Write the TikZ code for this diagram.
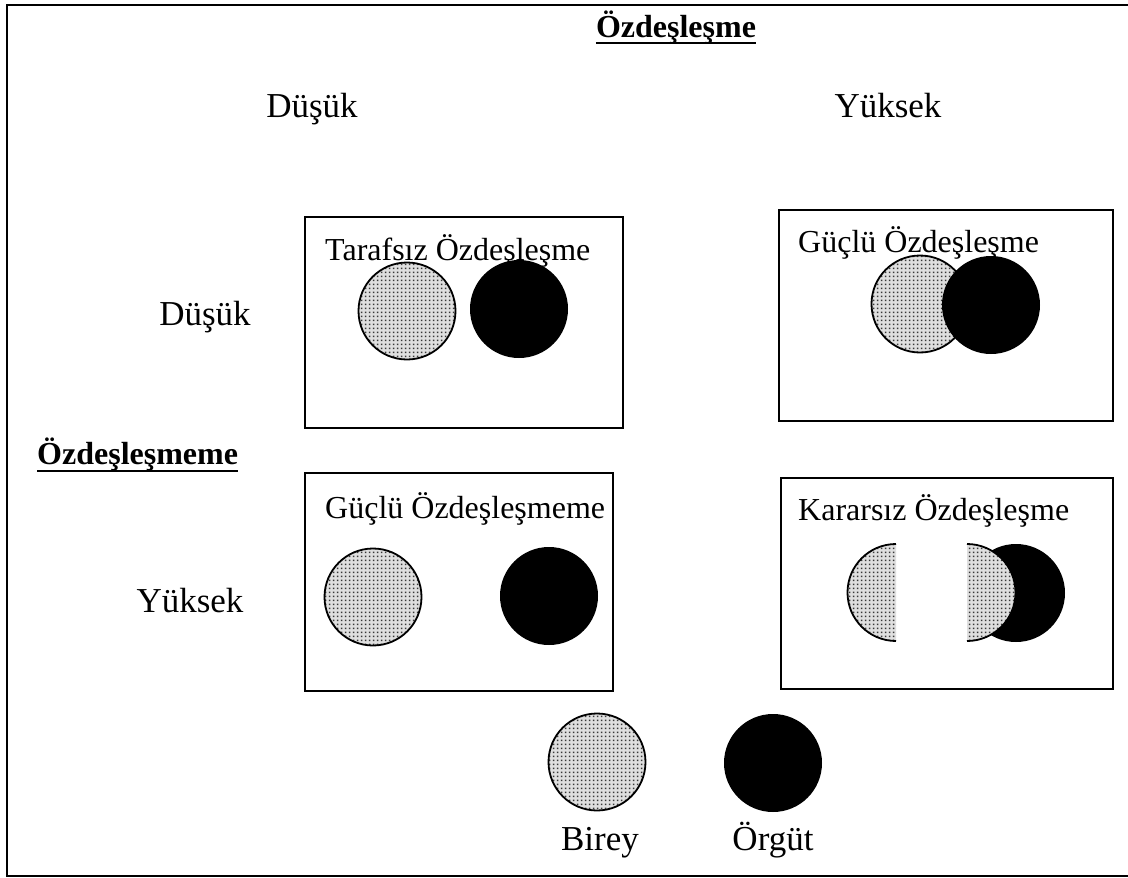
\documentclass[tikz,border=0pt]{standalone}
\usepackage{fontspec}
\setmainfont{Liberation Serif}
\usetikzlibrary{patterns.meta}
% fine dot screen used for the "Birey" discs
\pgfdeclarepattern{
  name=stipple,
  type=uncolored,
  bottom left={\pgfpoint{0pt}{0pt}},
  top right={\pgfpoint{4pt}{4pt}},
  tile size={\pgfpoint{4pt}{4pt}},
  code={\pgfpathrectangle{\pgfpoint{1pt}{1pt}}{\pgfpoint{2pt}{2pt}}\pgfusepath{fill}}
}
\begin{document}
\begin{tikzpicture}[x=1pt,y=-1pt,
  lbl/.style={inner sep=0, anchor=base, font=\fontsize{35}{41}\selectfont},
  ttl/.style={inner sep=0, anchor=base west, font=\fontsize{32}{38}\selectfont},
  hdr/.style={inner sep=0, font=\fontsize{32}{38}\selectfont\bfseries},
  quad/.style={draw, line width=1.8, anchor=north west, inner sep=0},
  stip/.style={preaction={fill=gray!25}, pattern=stipple, pattern color=gray!45!black},
  birey/.style={circle, draw, line width=1.8, minimum size=97, inner sep=0, stip},
  orgut/.style={circle, fill=black, minimum size=98, inner sep=0},
  rim/.style={line width=1.8}
]
\useasboundingbox (0,0) rectangle (1128,878);
\clip (0,0) rectangle (1128,878);

% outer frame (its right side lies past the page edge)
\draw[line width=2.5] (7,5) rectangle (1160,876);

% column heading
\node[hdr, anchor=base] (colhead) at (676,37) {Özdeşleşme};
\draw[line width=2.5] ([yshift=-6pt]colhead.base west) -- ([yshift=-6pt]colhead.base east);
\node[lbl] (cLow) at (312,117) {Düşük};
\node[lbl] (cHigh) at (888,117) {Yüksek};

% row heading
\node[hdr, anchor=base west] (rowhead) at (37,464) {Özdeşleşmeme};
\draw[line width=2.5] ([yshift=-7pt]rowhead.base west) -- ([yshift=-7pt]rowhead.base east);
\node[lbl] (rLow) at (205,325) {Düşük};
\node[lbl] (rHigh) at (190,612) {Yüksek};

% four quadrants
\node[quad, minimum width=318, minimum height=211] (q1) at (304,216) {};
\node[quad, minimum width=334, minimum height=211] (q2) at (778,209) {};
\node[quad, minimum width=308, minimum height=218] (q3) at (304,472) {};
\node[quad, minimum width=332, minimum height=211] (q4) at (780,477) {};

\node[ttl] (t1) at (325,260) {Tarafsız Özdeşleşme};
\node[ttl] (t2) at (798,252) {Güçlü Özdeşleşme};
\node[ttl] (t3) at (325,518) {Güçlü Özdeşleşmeme};
\node[ttl] (t4) at (798,520) {Kararsız Özdeşleşme};

% Tarafsız: apart
\node[birey] (b1) at (407,311) {};
\node[orgut] (o1) at (519,309) {};

% Güçlü Özdeşleşme: overlapping, organisation in front
\node[birey] (b2) at (920,304) {};
\node[orgut] (o2) at (991,305) {};

% Güçlü Özdeşleşmeme: far apart
\node[birey] (b3) at (373,597) {};
\node[orgut] (o3) at (549,596) {};

% Kararsız: the individual split in two halves
\fill[stip] (896,544) arc (270:90:48.5) -- cycle;
\draw[rim] (896,544) arc (270:90:48.5);
\node[orgut] (o4) at (1016,593) {};
\fill[stip] (967,544) arc (270:450:48.5) -- cycle;
\draw[rim] (967,544) arc (270:450:48.5);

% legend
\node[birey] (bL) at (597,762) {};
\node[orgut] (oL) at (773,763) {};
\node[lbl] (bLt) at (600,850) {Birey};
\node[lbl] (oLt) at (773,850) {Örgüt};
\end{tikzpicture}
\end{document}
